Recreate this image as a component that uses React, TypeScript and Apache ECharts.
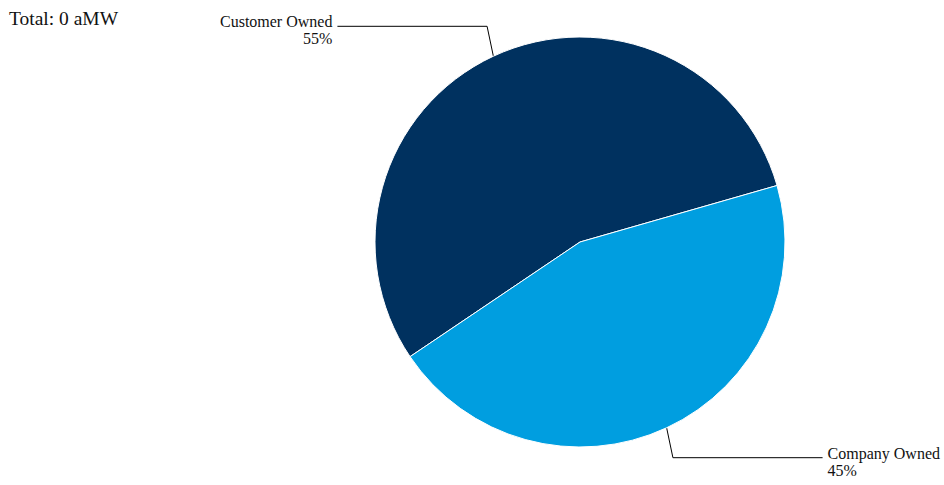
import React, { useEffect, useRef } from "react";
import * as echarts from "echarts";

const categories = ["Customer Owned", "Company Owned"];
const shares = [55, 45];
const sliceColors = ["#00315f", "#009ee0"];
const titleText = "Total: 0 aMW";

export default function App() {
  const ref = useRef<HTMLDivElement>(null);
  useEffect(() => {
    if (!ref.current) return;
    const chart = echarts.init(ref.current, undefined, { renderer: "svg" });
    const font = "'Liberation Serif', 'Times New Roman', serif";
    chart.setOption({
      animation: false,
      backgroundColor: "#ffffff",
      title: {
        text: titleText,
        left: 4,
        top: 3,
        textStyle: { fontFamily: font, fontSize: 19.5, fontWeight: "normal", color: "#111" },
      },
      series: [
        {
          type: "pie",
          center: [580, 242],
          radius: 205,
          startAngle: 214,
          clockwise: true,
          avoidLabelOverlap: false,
          itemStyle: { borderColor: "#ffffff", borderWidth: 1 },
          label: {
            show: true,
            position: "outside",
            formatter: (p: any) => `${p.name}\n${p.value}%`,
            fontFamily: font,
            fontSize: 16,
            lineHeight: 17,
            color: "#111",
          },
          labelLine: {
            show: true,
            length: 33,
            length2: 142,
            lineStyle: { color: "#000", width: 1 },
          },
          labelLayout: (params: any) => {
            const pts = params.labelLinePoints;
            if (!pts || pts.length < 3) return { dy: 4 };
            const p0 = pts[0];
            const p1 = pts[1];
            const p2 = pts[2];
            return {
              dy: 4,
              labelLinePoints: [
                [p0[0], p0[1]],
                [p0[0] + (p1[0] - p0[0]) * 0.45, p1[1]],
                [p2[0], p2[1]],
              ],
            };
          },
          emphasis: { disabled: true },
          data: categories.map((c, i) => ({
            name: c,
            value: shares[i],
            itemStyle: { color: sliceColors[i] },
          })),
        },
      ],
    });
    return () => chart.dispose();
  }, []);
  return (
    <div
      ref={ref}
      style={{ position: "fixed", left: 0, top: 0, width: 944, height: 485 }}
    />
  );
}
